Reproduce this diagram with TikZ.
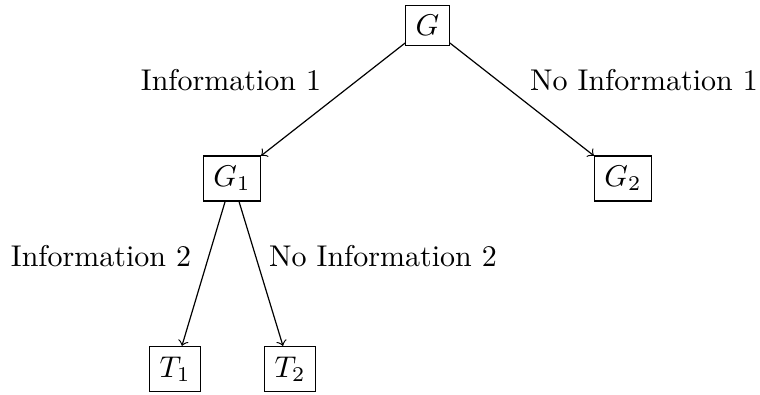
\documentclass[tikz,border=0pt]{standalone}
\begin{document}
\begin{tikzpicture}[x=0.33333pt,y=-0.33333pt,
  box/.style={draw, inner sep=3.33pt},
  lbl/.style={anchor=base, inner sep=0pt},
  edge/.style={->}]
\useasboundingbox (0,0) rectangle (760,394);
\node[box] (G)  at (427.5,25.5) {$G$};
\node[box] (G1) at (232,178.5) {$G_1$};
\node[box] (G2) at (623,178.5) {$G_2$};
\node[box] (T1) at (175,369) {$T_1$};
\node[box] (T2) at (290,369) {$T_2$};
\draw[edge] (G) -- (G1);
\draw[edge] (G) -- (G2);
\draw[edge] (G1) -- (T1);
\draw[edge] (G1) -- (T2);
\node[lbl] (l1) at (231,91) {Information 1};
\node[lbl] (l2) at (644,91) {No Information 1};
\node[lbl] (l3) at (101,266) {Information 2};
\node[lbl] (l4) at (383,266) {No Information 2};
\end{tikzpicture}
\end{document}
